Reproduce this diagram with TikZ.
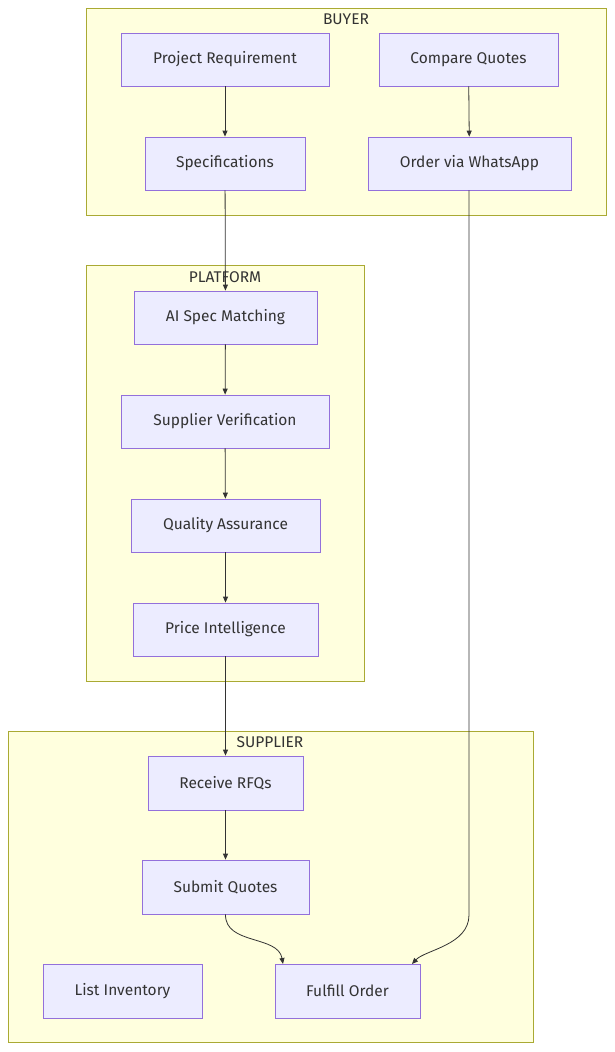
\documentclass[tikz,border=0pt]{standalone}
\usepackage{fontspec}
\setmainfont{Fira Sans}
\usetikzlibrary{arrows.meta}
\definecolor{clfill}{HTML}{FFFFDE}
\definecolor{cldraw}{HTML}{AAAA33}
\definecolor{ndfill}{HTML}{ECECFF}
\definecolor{nddraw}{HTML}{9370DB}
\definecolor{txt}{HTML}{333333}
\tikzset{
  cluster/.style={draw=cldraw, fill=clfill, line width=0.8pt},
  box/.style={draw=nddraw, fill=ndfill, line width=0.8pt, text=txt, inner sep=0pt,
    font=\fontsize{15.5}{18}\selectfont},
  lbl/.style={text=txt, font=\fontsize{15.5}{18}\selectfont, inner sep=0pt},
  link/.style={draw=txt, line width=0.8pt, -{Triangle[length=6pt,width=5pt]}}
}
\newcommand{\bx}[6]{\node[box, minimum width=#4-#3, minimum height=#6-#5] (#1) at ({(#3+#4)/2},{(#5+#6)/2}) {#2};}
\begin{document}
\begin{tikzpicture}[x=1pt,y=-1pt]
  \useasboundingbox (0,0) rectangle (614,1052);
  % clusters
  \draw[cluster] (86,8) rectangle (606,215);
  \node[lbl] (buyer) at (346,19) {BUYER};
  \draw[cluster] (86,265) rectangle (364,681);
  \node[lbl] (platform) at (225,277) {PLATFORM};
  \draw[cluster] (8,731) rectangle (533,1042);
  \node[lbl] (supplier) at (270,742) {SUPPLIER};
  % nodes
  \bx{req}{Project Requirement}{121}{329}{33}{86}
  \bx{cmp}{Compare Quotes}{379}{558}{33}{86}
  \bx{spec}{Specifications}{145}{305}{137}{190}
  \bx{order}{Order via WhatsApp}{368}{571}{137}{190}
  \bx{match}{AI Spec Matching}{134}{317}{291}{344}
  \bx{verif}{Supplier Verification}{121}{329}{395}{448}
  \bx{qa}{Quality Assurance}{131}{320}{499}{552}
  \bx{price}{Price Intelligence}{133}{318}{603}{656}
  \bx{rfq}{Receive RFQs}{148}{303}{756}{810}
  \bx{quote}{Submit Quotes}{142}{309}{860}{914}
  \bx{inv}{List Inventory}{43}{202}{964}{1018}
  \bx{fill}{Fulfill Order}{275}{420}{964}{1018}
  % links
  \draw[link] (req) -- (spec);
  \draw[link] (cmp) -- (order);
  \draw[link] (spec) -- (match);
  \draw[link] (match) -- (verif);
  \draw[link] (verif) -- (qa);
  \draw[link] (qa) -- (price);
  \draw[link] (price) -- (rfq);
  \draw[link] (rfq) -- (quote);
  \draw[link] (quote.south) .. controls (225,945) and (278,935) .. (283,964);
  \draw[link] (order.south -| 469,0) -- (469,915) .. controls (469,945) and (425,950) .. (412,964);
\end{tikzpicture}
\end{document}
